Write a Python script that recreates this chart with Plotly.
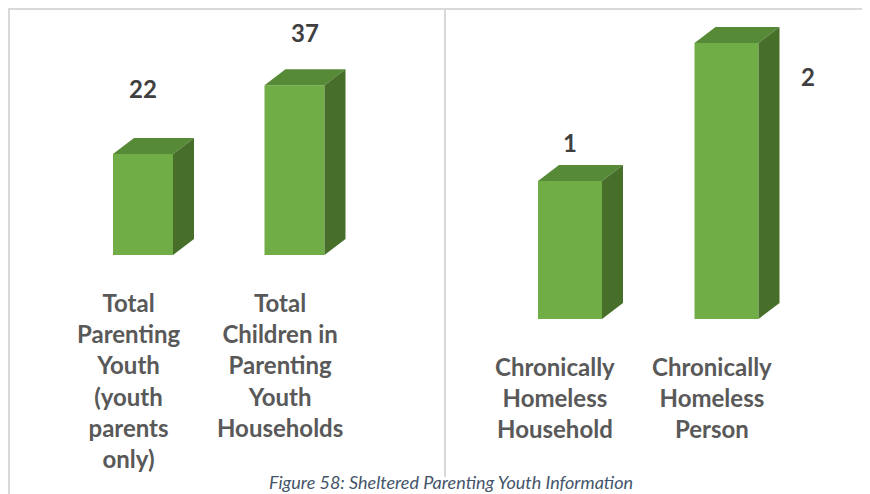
import plotly.graph_objects as go

# data
left_labels = [
    "Total<br>Parenting<br>Youth<br>(youth<br>parents<br>only)",
    "Total<br>Children in<br>Parenting<br>Youth<br>Households",
]
left_values = [22, 37]
right_labels = [
    "Chronically<br>Homeless<br>Household",
    "Chronically<br>Homeless<br>Person",
]
right_values = [1, 2]
caption = "Figure 58: Sheltered Parenting Youth Information"

# page body has an 8px margin, so the figure is shrunk and shifted by it
OFF = 8
W, H = 870 - OFF, 494 - OFF


def px(x):
    return (x - OFF) / W


def py(y):
    return 1 - (y - OFF) / H


front = "#70AD47"
top_c = "#578A37"
side_c = "#476F2A"


def axis_range(lo_px, hi_px, zero_px, unit_px):
    return [(lo_px - zero_px) / unit_px, (hi_px - zero_px) / unit_px]


# positions in window pixels: panel edges, first bar centre, category step, zero line, px per unit
panels = [
    dict(xd=[0, px(445)], xr=axis_range(OFF, 445, 143, 151.5),
         yr=[-(494 - 255) / 4.59, (255 - OFF) / 4.59], w=0.396),
    dict(xd=[px(445), 1], xr=axis_range(445, 870, 570, 156.5),
         yr=[-(494 - 319) / 138.0, (319 - OFF) / 138.0], w=0.409),
]
depth_px = (21, 16)

fig = go.Figure()


def add_bars(values, p, xa, ya):
    xpx = (p["xd"][1] - p["xd"][0]) * W / (p["xr"][1] - p["xr"][0])
    ypx = H / (p["yr"][1] - p["yr"][0])
    dx = depth_px[0] / xpx
    dy = depth_px[1] / ypx
    w = p["w"]
    xs = list(range(len(values)))
    fig.add_trace(
        go.Bar(
            x=xs, y=values, width=w, marker_color=front,
            marker_line_width=0, xaxis=xa, yaxis=ya, showlegend=False,
        )
    )
    for i, v in zip(xs, values):
        l, r = i - w / 2, i + w / 2
        # top face
        fig.add_trace(
            go.Scatter(
                x=[l, r, r + dx, l + dx, l], y=[v, v, v + dy, v + dy, v],
                fill="toself", fillcolor=top_c, mode="lines", line_width=0,
                xaxis=xa, yaxis=ya, showlegend=False, hoverinfo="skip",
            )
        )
        # side face
        fig.add_trace(
            go.Scatter(
                x=[r, r + dx, r + dx, r, r], y=[0, dy, v + dy, v, 0],
                fill="toself", fillcolor=side_c, mode="lines", line_width=0,
                xaxis=xa, yaxis=ya, showlegend=False, hoverinfo="skip",
            )
        )


add_bars(left_values, panels[0], "x", "y")
add_bars(right_values, panels[1], "x2", "y2")

ann = []
lab_font = dict(family="Lato", size=24, color="#595959")
val_font = dict(family="Lato", size=24, color="#404040")
# value label offsets in px (xshift, yshift)
left_shift = [(0, 66), (10, 53)]
right_shift = [(0, 39), (81, -33)]

for xr, yr, vals, labs, shifts in [
    ("x", "y", left_values, left_labels, left_shift),
    ("x2", "y2", right_values, right_labels, right_shift),
]:
    for i, (v, lab, sh) in enumerate(zip(vals, labs, shifts)):
        ann.append(dict(
            x=i, y=v, xref=xr, yref=yr, text="<b>%d</b>" % v, showarrow=False,
            xshift=sh[0], yshift=sh[1], font=val_font, yanchor="middle",
        ))
        ann.append(dict(
            x=i, y=0, xref=xr, yref=yr, text="<b>%s</b>" % lab, showarrow=False,
            xshift=-15, yshift=-31, yanchor="top", font=lab_font,
        ))

ann.append(dict(
    x=px(451), y=0, xref="paper", yref="paper", text="<i>%s</i>" % caption,
    showarrow=False, yanchor="bottom", borderpad=0,
    font=dict(family="Lato", size=18, color="#44546A"),
))

border = dict(color="#D9D9D9", width=2)
top_y = py(OFF + 1)
shapes = [
    dict(type="path", xref="paper", yref="paper",
         path="M %f,%f L %f,%f L %f,%f L %f,%f" % (
             px(9), 0, px(9), top_y, px(445), top_y, px(445), py(477)),
         line=border),
    dict(type="line", xref="paper", yref="paper",
         x0=px(445), y0=top_y, x1=1, y1=top_y, line=border),
]

fig.update_layout(
    width=W, height=H, margin=dict(l=0, r=0, t=0, b=0),
    paper_bgcolor="white", plot_bgcolor="rgba(0,0,0,0)",
    annotations=ann, shapes=shapes, showlegend=False,
    xaxis=dict(domain=panels[0]["xd"], range=panels[0]["xr"], visible=False),
    yaxis=dict(domain=[0, 1], range=panels[0]["yr"], visible=False),
    xaxis2=dict(domain=panels[1]["xd"], range=panels[1]["xr"], visible=False),
    yaxis2=dict(domain=[0, 1], range=panels[1]["yr"], visible=False, anchor="x2"),
)

fig.write_html("out.html")
